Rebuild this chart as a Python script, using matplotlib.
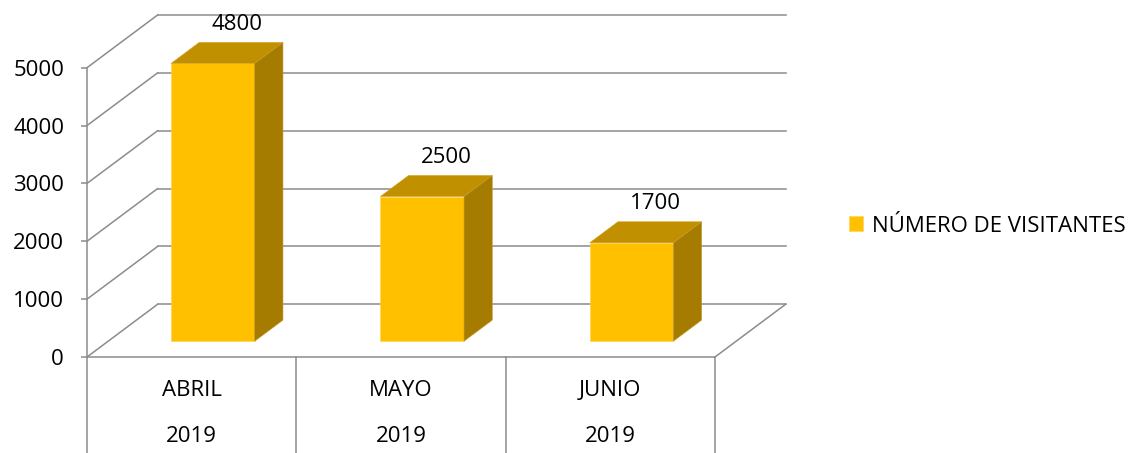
import matplotlib
matplotlib.use("Agg")
import matplotlib.pyplot as plt
from matplotlib.patches import Polygon

# ---- data ----
months = ["ABRIL", "MAYO", "JUNIO"]
years = ["2019", "2019", "2019"]
visitantes = [4800, 2500, 1700]
series_name = "NÚMERO DE VISITANTES"
yticks = [0, 1000, 2000, 3000, 4000, 5000]

# ---- style ----
plt.rcParams['font.family'] = ['Open Sans', 'DejaVu Sans']
FS = 16
GRID = '#8C8C8C'
FRONT = '#FFC000'
TOP = '#C09000'
SIDE = '#A67C00'

W, H = 1128, 453
fig = plt.figure(figsize=(W / 100, H / 100), dpi=100)
# front plot region (pixels): x 87..715, y 357 (0) .. 67.7 (5000)
ax = fig.add_axes([87 / W, (H - 357) / H, (715 - 87) / W, (357 - 67.7) / H])
ax.set_xlim(0, 3)
ax.set_ylim(0, 5000)

px_x = (715 - 87) / 3.0          # px per category
px_y = (357 - 67.7) / 5000.0     # px per value unit
DX = 70.6 / px_x                 # depth vector in data units
DY = 52.7 / px_y

lw = 1.1
n = len(months)
# walls: side wall diagonals and back wall gridlines
for t in yticks:
    ax.plot([0, DX], [t, t + DY], color=GRID, lw=lw, clip_on=False, zorder=1)
    ax.plot([DX, n + DX], [t + DY, t + DY], color=GRID, lw=lw, clip_on=False, zorder=1)
# floor right edge
ax.plot([n, n + DX], [0, DY], color=GRID, lw=lw, clip_on=False, zorder=1)
# category separators below the floor
for i in range(n + 1):
    ax.plot([i, i], [0, -2000], color=GRID, lw=lw, clip_on=False, zorder=1)

# bars
bw = 0.4
d0, d1 = 0.3, 0.7
y0 = d0 * DY
xs = [i + 0.5 + d0 * DX for i in range(n)]
bars = ax.bar(xs, visitantes, width=bw, bottom=y0, color=FRONT, edgecolor='#FFD24D',
              linewidth=0.4, label=series_name, zorder=3, clip_on=False)
dd = (d1 - d0)
for xc, v in zip(xs, visitantes):
    xl, xr = xc - bw / 2, xc + bw / 2
    top = Polygon([(xl, v + y0), (xr, v + y0), (xr + dd * DX, v + y0 + dd * DY),
                   (xl + dd * DX, v + y0 + dd * DY)], closed=True,
                  facecolor=TOP, edgecolor='#D9A520', lw=0.4, zorder=3, clip_on=False)
    side = Polygon([(xr, y0), (xr, v + y0), (xr + dd * DX, v + y0 + dd * DY),
                    (xr + dd * DX, y0 + dd * DY)], closed=True,
                   facecolor=SIDE, edgecolor='#C09A30', lw=0.4, zorder=3, clip_on=False)
    ax.add_patch(top)
    ax.add_patch(side)
    ax.annotate(f"{v}", xy=(xc + dd * DX, v + y0 + dd * DY), xytext=(-3, 13),
                textcoords='offset points', ha='center', va='center',
                fontsize=FS, color='black', zorder=5, annotation_clip=False)

# category labels
for i in range(n):
    ax.text(i + 0.5, -(390 - 357) / px_y, months[i], ha='center', va='center',
            fontsize=FS, color='black')
    ax.text(i + 0.5, -(437 - 357) / px_y, years[i], ha='center', va='center',
            fontsize=FS, color='black')

# axes styling
for s in ['top', 'right']:
    ax.spines[s].set_visible(False)
for s in ['left', 'bottom']:
    ax.spines[s].set_color(GRID)
    ax.spines[s].set_linewidth(lw)
    ax.spines[s].set_zorder(2)
ax.set_xticks([])
ax.set_yticks(yticks)
ax.set_yticklabels([str(t) for t in yticks])
ax.tick_params(axis='y', length=4.5, width=lw, color=GRID, pad=12, labelsize=FS,
               labelcolor='black')
ax.patch.set_visible(False)

fig.legend(handles=[bars], labels=[series_name], loc='center left',
           bbox_to_anchor=(849 / W, 1 - 226 / H), frameon=False, fontsize=FS,
           handlelength=0.62, handleheight=0.62, handletextpad=0.4,
           borderpad=0, borderaxespad=0)

fig.savefig('out.png', dpi=100)
